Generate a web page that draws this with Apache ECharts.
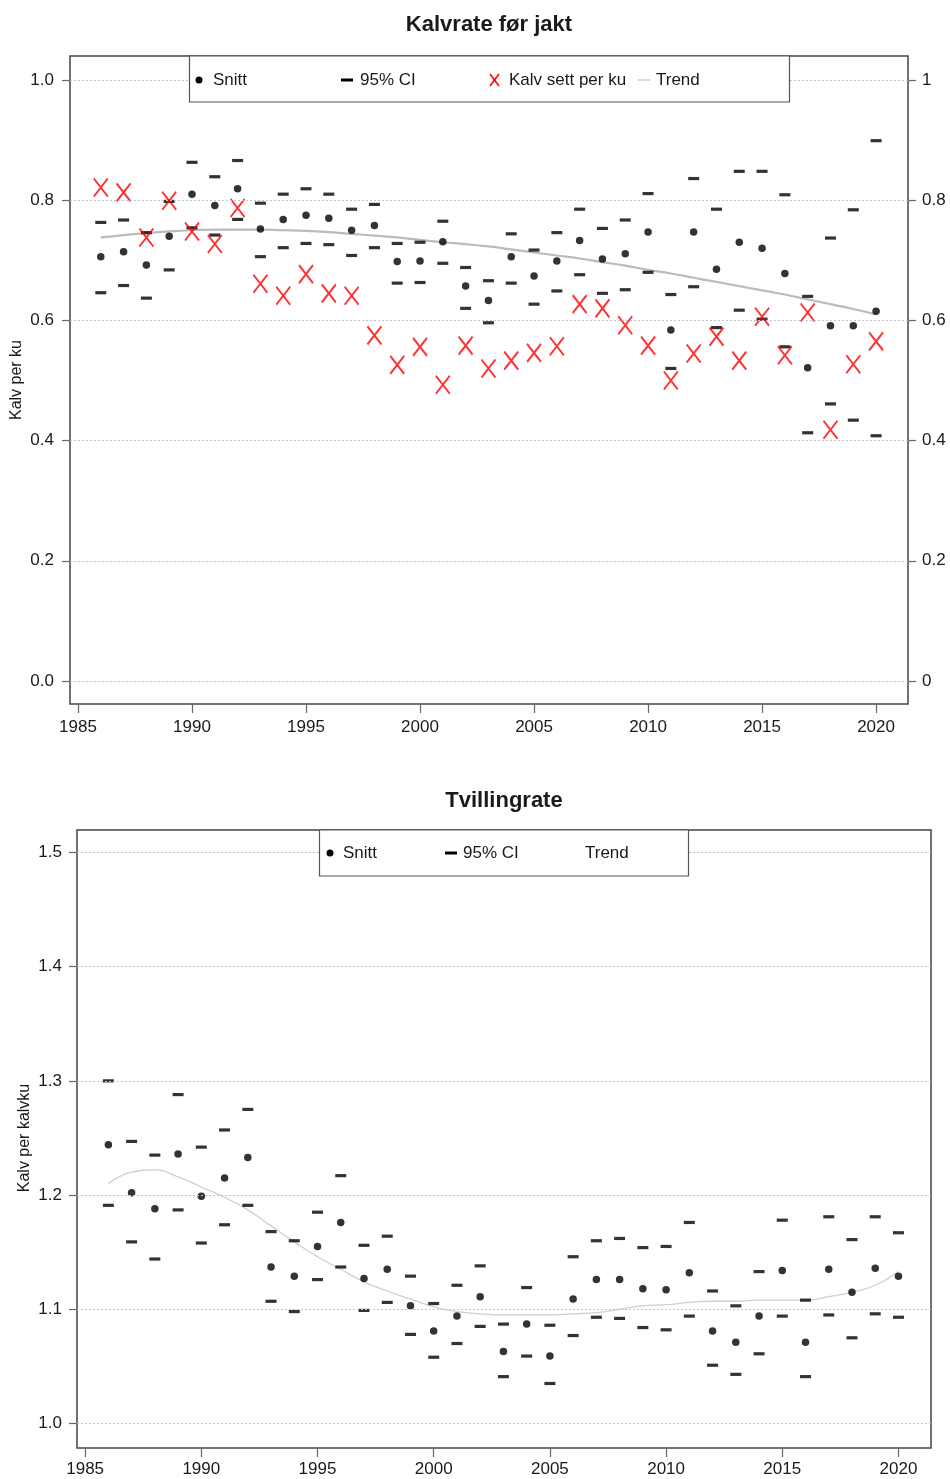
<!DOCTYPE html>
<html><head><meta charset="utf-8">
<script src="https://cdn.jsdelivr.net/npm/echarts@6/dist/echarts.min.js"></script>
<style>html,body{margin:0;padding:0;background:#fff}#c{width:950px;height:1479px}</style>
</head><body><div id="c"></div><script>
const years = [1986,1987,1988,1989,1990,1991,1992,1993,1994,1995,1996,1997,1998,1999,2000,2001,2002,2003,2004,2005,2006,2007,2008,2009,2010,2011,2012,2013,2014,2015,2016,2017,2018,2019,2020];
const xTicks = [1985,1990,1995,2000,2005,2010,2015,2020];
const topTicks = [0,0.2,0.4,0.6,0.8,1.0];
const bottomTicks = [1.0,1.1,1.2,1.3,1.4,1.5];

// Kalvrate før jakt
const kalvSnitt = [0.706,0.714,0.692,0.740,0.810,0.791,0.819,0.752,0.768,0.775,0.770,0.750,0.758,0.698,0.699,0.731,0.657,0.633,0.706,0.674,0.699,0.733,0.702,0.711,0.747,0.584,0.747,0.685,0.730,0.720,0.678,0.521,0.591,0.591,0.615];
const kalvUpper = [0.763,0.767,0.746,0.798,0.863,0.839,0.866,0.795,0.810,0.819,0.810,0.785,0.793,0.728,0.730,0.765,0.688,0.666,0.744,0.717,0.746,0.785,0.753,0.767,0.811,0.643,0.836,0.785,0.848,0.848,0.809,0.640,0.737,0.784,0.899];
const kalvLower = [0.646,0.658,0.637,0.684,0.754,0.742,0.768,0.706,0.721,0.728,0.726,0.708,0.721,0.662,0.663,0.695,0.620,0.596,0.662,0.627,0.649,0.676,0.645,0.651,0.680,0.520,0.656,0.588,0.617,0.602,0.556,0.413,0.461,0.434,0.408];
const kalvSett = [0.821,0.813,0.738,0.799,0.748,0.727,0.787,0.661,0.641,0.677,0.645,0.641,0.575,0.526,0.556,0.493,0.558,0.520,0.533,0.546,0.557,0.627,0.620,0.592,0.558,0.500,0.545,0.573,0.533,0.606,0.542,0.613,0.418,0.527,0.565];
const kalvTrend = [0.738,0.742,0.745,0.748,0.750,0.751,0.751,0.751,0.750,0.749,0.747,0.744,0.741,0.738,0.734,0.730,0.727,0.723,0.718,0.713,0.708,0.703,0.697,0.691,0.684,0.678,0.671,0.664,0.657,0.650,0.643,0.635,0.627,0.619,0.610];

// Tvillingrate
const twinSnitt = [1.244,1.202,1.188,1.236,1.199,1.215,1.233,1.137,1.129,1.155,1.176,1.127,1.135,1.103,1.081,1.094,1.111,1.063,1.087,1.059,1.109,1.126,1.126,1.118,1.117,1.132,1.081,1.071,1.094,1.134,1.071,1.135,1.115,1.136,1.129];
const twinUpper = [1.300,1.247,1.235,1.288,1.242,1.257,1.275,1.168,1.160,1.185,1.217,1.156,1.164,1.129,1.105,1.121,1.138,1.087,1.119,1.086,1.146,1.160,1.162,1.154,1.155,1.176,1.116,1.103,1.133,1.178,1.108,1.181,1.161,1.181,1.167];
const twinLower = [1.191,1.159,1.144,1.187,1.158,1.174,1.191,1.107,1.098,1.126,1.137,1.099,1.106,1.078,1.058,1.070,1.085,1.041,1.059,1.035,1.077,1.093,1.092,1.084,1.082,1.094,1.051,1.043,1.061,1.094,1.041,1.095,1.075,1.096,1.093];
const twinTrend = [1.210,1.220,1.222,1.216,1.207,1.198,1.187,1.173,1.159,1.146,1.135,1.124,1.116,1.109,1.102,1.098,1.096,1.095,1.095,1.095,1.096,1.097,1.100,1.103,1.104,1.106,1.107,1.107,1.108,1.108,1.108,1.111,1.115,1.121,1.133];

const FONT = "'Liberation Sans', Arial, sans-serif";
const TXT = '#1a1a1a';
const pairs = arr => years.map((y, i) => [y, arr[i]]);
const gridLines = ticks => ({
  silent: true, symbol: ['none','none'], label: {show: false}, animation: false,
  lineStyle: {color: '#c4c4c4', type: [2, 2], width: 1},
  emphasis: {disabled: true},
  data: ticks.map(v => ({yAxis: v}))
});
const X_PATH = 'path://M0,0L10,13M10,0L0,13';

const chart = echarts.init(document.getElementById('c'), null, {renderer: 'canvas'});
const xAxisBase = (gi, margin) => ({
  type: 'value', gridIndex: gi, min: 1984.65, max: 2021.4, position: 'bottom',
  splitLine: {show: false}, axisLine: {show: false, onZero: false},
  axisTick: {show: true, customValues: xTicks, length: 9, lineStyle: {color: '#666', width: 1.2}},
  axisLabel: {customValues: xTicks, margin: margin, fontSize: 17, color: TXT, fontFamily: FONT, formatter: v => String(v)}
});
const option = {
  animation: false,
  backgroundColor: '#fff',
  grid: [
    {left: 70, top: 56, width: 838, height: 648, show: true, borderColor: '#444', borderWidth: 1.5, backgroundColor: 'transparent'},
    {left: 77, top: 830, width: 854, height: 618, show: true, borderColor: '#444', borderWidth: 1.5, backgroundColor: 'transparent'}
  ],
  xAxis: [xAxisBase(0, 15), xAxisBase(1, 13)],
  yAxis: [
    {type: 'value', gridIndex: 0, min: -0.0383, max: 1.0399, position: 'left',
     splitLine: {show: false}, axisLine: {show: false, onZero: false},
     axisTick: {show: true, customValues: topTicks, length: 8, lineStyle: {color: '#666', width: 1.2}},
     axisLabel: {customValues: topTicks, margin: 16, fontSize: 17, color: TXT, fontFamily: FONT, formatter: v => Number(v).toFixed(1)}},
    {type: 'value', gridIndex: 0, min: -0.0383, max: 1.0399, position: 'right',
     splitLine: {show: false}, axisLine: {show: false, onZero: false},
     axisTick: {show: true, customValues: topTicks, length: 8, lineStyle: {color: '#666', width: 1.2}},
     axisLabel: {customValues: topTicks, margin: 14, fontSize: 17, color: TXT, fontFamily: FONT, formatter: v => String(+Number(v).toFixed(1))}},
    {type: 'value', gridIndex: 1, min: 0.9785, max: 1.5197, position: 'left',
     splitLine: {show: false}, axisLine: {show: false, onZero: false},
     axisTick: {show: true, customValues: bottomTicks, length: 8, lineStyle: {color: '#666', width: 1.2}},
     axisLabel: {customValues: bottomTicks, margin: 15, fontSize: 17, color: TXT, fontFamily: FONT, formatter: v => Number(v).toFixed(1)}}
  ],
  series: [
    {name: 'Trend', type: 'line', xAxisIndex: 0, yAxisIndex: 0, data: pairs(kalvTrend), smooth: true, showSymbol: false, symbol: 'none',
     lineStyle: {color: '#bbbbbb', width: 2.2}, emphasis: {disabled: true}, markLine: gridLines(topTicks), z: 1},
    {name: '95% CI upper', type: 'scatter', xAxisIndex: 0, yAxisIndex: 0, data: pairs(kalvUpper), symbol: 'rect', symbolSize: [11, 3.2],
     itemStyle: {color: '#000'}, emphasis: {disabled: true}, z: 2},
    {name: '95% CI lower', type: 'scatter', xAxisIndex: 0, yAxisIndex: 0, data: pairs(kalvLower), symbol: 'rect', symbolSize: [11, 3.2],
     itemStyle: {color: '#000'}, emphasis: {disabled: true}, z: 2},
    {name: 'Snitt', type: 'scatter', xAxisIndex: 0, yAxisIndex: 0, data: pairs(kalvSnitt), symbol: 'circle', symbolSize: 7.5,
     itemStyle: {color: '#000'}, emphasis: {disabled: true}, z: 3},
    {name: 'Kalv sett per ku', type: 'scatter', xAxisIndex: 0, yAxisIndex: 0, data: pairs(kalvSett), symbol: X_PATH, symbolSize: [14, 18],
     itemStyle: {color: 'rgba(0,0,0,0)', borderColor: '#ff0000', borderWidth: 2}, emphasis: {disabled: true}, z: 4},

    {name: 'Trend T', type: 'line', xAxisIndex: 1, yAxisIndex: 2, data: pairs(twinTrend), smooth: true, showSymbol: false, symbol: 'none',
     lineStyle: {color: '#cfcfcf', width: 1.3}, emphasis: {disabled: true}, markLine: gridLines(bottomTicks), z: 1},
    {name: '95% CI upper T', type: 'scatter', xAxisIndex: 1, yAxisIndex: 2, data: pairs(twinUpper), symbol: 'rect', symbolSize: [11, 3.2],
     itemStyle: {color: '#000'}, emphasis: {disabled: true}, z: 2},
    {name: '95% CI lower T', type: 'scatter', xAxisIndex: 1, yAxisIndex: 2, data: pairs(twinLower), symbol: 'rect', symbolSize: [11, 3.2],
     itemStyle: {color: '#000'}, emphasis: {disabled: true}, z: 2},
    {name: 'Snitt T', type: 'scatter', xAxisIndex: 1, yAxisIndex: 2, data: pairs(twinSnitt), symbol: 'circle', symbolSize: 7.5,
     itemStyle: {color: '#000'}, emphasis: {disabled: true}, z: 3}
  ],
  graphic: [
    // titles
    {type: 'text', x: 489, y: 25, z: 100, style: {text: 'Kalvrate før jakt', fill: TXT, font: `bold 22px ${FONT}`, textAlign: 'center', textVerticalAlign: 'middle'}},
    {type: 'text', x: 504, y: 801, z: 100, style: {text: 'Tvillingrate', fill: TXT, font: `bold 22px ${FONT}`, textAlign: 'center', textVerticalAlign: 'middle'}},
    // axis names
    {type: 'text', x: 17, y: 380, rotation: Math.PI / 2, z: 100, style: {text: 'Kalv per ku', fill: TXT, font: `16px ${FONT}`, textAlign: 'center', textVerticalAlign: 'middle'}},
    {type: 'text', x: 25, y: 1138, rotation: Math.PI / 2, z: 100, style: {text: 'Kalv per kalvku', fill: TXT, font: `16px ${FONT}`, textAlign: 'center', textVerticalAlign: 'middle'}},
    // top legend
    {type: 'rect', z: 100, shape: {x: 189.5, y: 56, width: 600, height: 46}, style: {fill: '#fff', stroke: '#555', lineWidth: 1.2}},
    {type: 'circle', z: 101, shape: {cx: 199, cy: 80, r: 3.5}, style: {fill: '#000'}},
    {type: 'text', z: 101, x: 213, y: 80, style: {text: 'Snitt', fill: TXT, font: `17px ${FONT}`, textVerticalAlign: 'middle'}},
    {type: 'rect', z: 101, shape: {x: 341, y: 78.5, width: 12, height: 3}, style: {fill: '#000'}},
    {type: 'text', z: 101, x: 360, y: 80, style: {text: '95% CI', fill: TXT, font: `17px ${FONT}`, textVerticalAlign: 'middle'}},
    {type: 'line', z: 101, shape: {x1: 490, y1: 74, x2: 499, y2: 86}, style: {stroke: '#ff0000', lineWidth: 1.6}},
    {type: 'line', z: 101, shape: {x1: 499, y1: 74, x2: 490, y2: 86}, style: {stroke: '#ff0000', lineWidth: 1.6}},
    {type: 'text', z: 101, x: 509, y: 80, style: {text: 'Kalv sett per ku', fill: TXT, font: `17px ${FONT}`, textVerticalAlign: 'middle'}},
    {type: 'line', z: 101, shape: {x1: 638, y1: 80, x2: 650, y2: 80}, style: {stroke: '#cccccc', lineWidth: 1.5}},
    {type: 'text', z: 101, x: 656, y: 80, style: {text: 'Trend', fill: TXT, font: `17px ${FONT}`, textVerticalAlign: 'middle'}},
    // bottom legend
    {type: 'rect', z: 100, shape: {x: 319.5, y: 830, width: 369, height: 46}, style: {fill: '#fff', stroke: '#555', lineWidth: 1.2}},
    {type: 'circle', z: 101, shape: {cx: 330, cy: 853, r: 3.5}, style: {fill: '#000'}},
    {type: 'text', z: 101, x: 343, y: 853, style: {text: 'Snitt', fill: TXT, font: `17px ${FONT}`, textVerticalAlign: 'middle'}},
    {type: 'rect', z: 101, shape: {x: 445, y: 851.5, width: 12, height: 3}, style: {fill: '#000'}},
    {type: 'text', z: 101, x: 463, y: 853, style: {text: '95% CI', fill: TXT, font: `17px ${FONT}`, textVerticalAlign: 'middle'}},
    {type: 'text', z: 101, x: 585, y: 853, style: {text: 'Trend', fill: TXT, font: `17px ${FONT}`, textVerticalAlign: 'middle'}}
  ]
};
chart.setOption(option);
</script></body></html>
